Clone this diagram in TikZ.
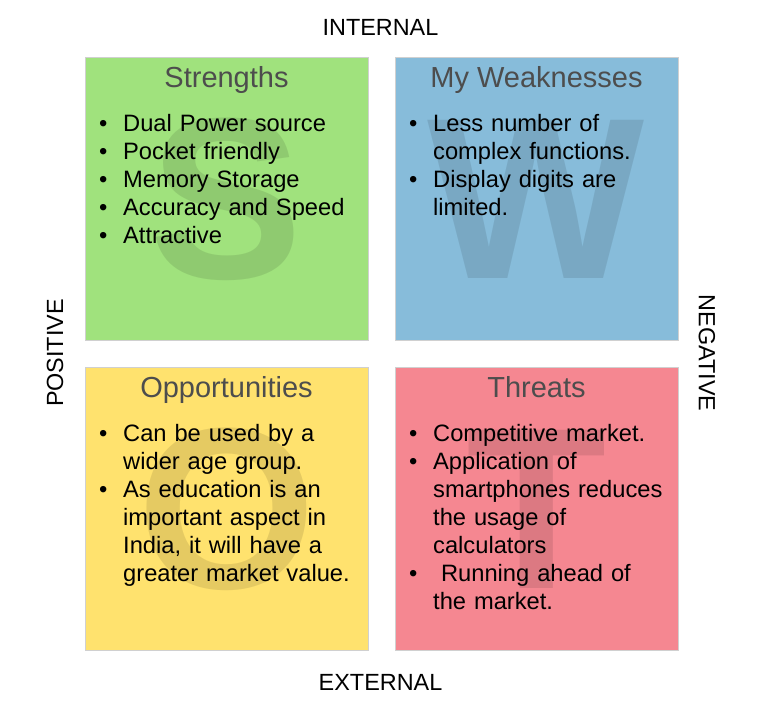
\documentclass[tikz,border=0pt]{standalone}
\usepackage{fontspec}
\setmainfont{Liberation Sans}
\usepackage{tikz}
\usetikzlibrary{positioning,calc}
\definecolor{sgreen}{RGB}{160,226,125}
\definecolor{wblue}{RGB}{135,188,218}
\definecolor{oyellow}{RGB}{255,226,110}
\definecolor{tred}{RGB}{245,135,145}
\definecolor{edge}{RGB}{208,208,208}
\definecolor{inkgrey}{RGB}{77,77,77}
\newcommand{\swbul}{\makebox[24pt][l]{\textbullet}}
\newcommand{\swcont}{\hspace*{24pt}}

\begin{document}
\begin{tikzpicture}[x=1pt,y=-1pt,
  quad/.style={draw=edge,line width=1pt,minimum size=283pt,inner sep=0pt},
  ttl/.style={anchor=base,inner sep=0pt,text=inkgrey,font=\fontsize{29}{34}\selectfont},
  big/.style={anchor=base,inner sep=0pt,text=black,text opacity=0.1,
              font=\fontsize{230}{230}\selectfont\bfseries},
  lst/.style={anchor=base west,inner sep=0pt,align=left,text width=260pt,
              font=\fontsize{23.7}{28}\selectfont},
  axis/.style={inner sep=0pt,font=\fontsize{23.4}{27}\selectfont}]

\useasboundingbox (0,0) rectangle (784,710);

\node[quad,fill=sgreen] (s) at (226.5,198.5) {};
\node[quad,fill=wblue] (w) at (536.5,198.5) {};
\node[quad,fill=oyellow] (o) at (226.5,508.5) {};
\node[quad,fill=tred] (t) at (536.5,508.5) {};

\node[big] (bs) at ([yshift=62pt]s.south) {S};
\node[big] (bw) at ([yshift=62pt]w.south) {W};
\node[big] (bo) at ([yshift=62pt]o.south) {O};
\node[big] (bt) at ([yshift=62pt]t.south) {T};

\node[ttl] (hs) at ([yshift=-31pt]s.north) {Strengths};
\node[ttl] (hw) at ([yshift=-31pt]w.north) {My Weaknesses};
\node[ttl] (ho) at ([yshift=-31pt]o.north) {Opportunities};
\node[ttl] (ht) at ([yshift=-31pt]t.north) {Threats};

\node[lst] (ls) at ([xshift=14.5pt,yshift=-75pt]s.north west)
  {\swbul Dual Power source\\
   \swbul Pocket friendly\\
   \swbul Memory Storage\\
   \swbul Accuracy and Speed\\
   \swbul Attractive};
\node[lst] (lw) at ([xshift=14.5pt,yshift=-75pt]w.north west)
  {\swbul Less number of\\
   \swcont complex functions.\\
   \swbul Display digits are\\
   \swcont limited.};
\node[lst] (lo) at ([xshift=14.5pt,yshift=-75pt]o.north west)
  {\swbul Can be used by a\\
   \swcont wider age group.\\
   \swbul As education is an\\
   \swcont important aspect in\\
   \swcont India, it will have a\\
   \swcont greater market value.};
\node[lst] (lt) at ([xshift=14.5pt,yshift=-75pt]t.north west)
  {\swbul Competitive market.\\
   \swbul Application of\\
   \swcont smartphones reduces\\
   \swcont the usage of\\
   \swcont calculators\\
   \swbul\ Running ahead of\\
   \swcont the market.};

\node[axis] (int) at (380.5,27) {INTERNAL};
\node[axis] (ext) at (380.5,682) {EXTERNAL};
\node[axis,rotate=90] (pos) at (55,353) {POSITIVE};
\node[axis,rotate=-90] (neg) at (707,353) {NEGATIVE};
\end{tikzpicture}
\end{document}
